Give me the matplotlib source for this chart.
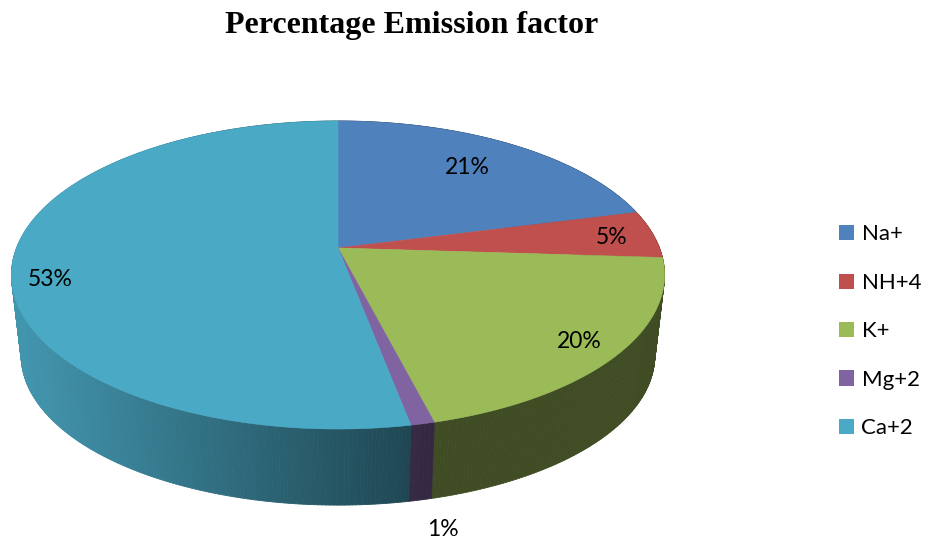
import numpy as np
import matplotlib
matplotlib.use("Agg")
import matplotlib.pyplot as plt
from matplotlib.collections import PolyCollection
from matplotlib.patches import Patch, Polygon

title = "Percentage Emission factor"
ions = ["Na+", "NH+4", "K+", "Mg+2", "Ca+2"]
shares = [21, 5, 20, 1, 53]
colors = ["#4f81bd", "#c0504d", "#9bbb59", "#8064a2", "#4aa9c5"]
label_xy = [(467, 167), (612, 238), (579, 341), (443, 530), (50, 279)]

# Perspective model of the disc, in canvas pixels
CX, CY = 338.0, 248.0
SCALE_X, SCALE_Y, TILT = 321.5, 149.3, 0.1753
BASE_Y, BASE_SCALE = 329.5, 0.97


def project(theta, radius=1.0, cy=CY, scale=1.0):
    """Map a clockwise-from-top angle on the disc to canvas coordinates."""
    u = radius * np.sin(theta)
    v = radius * np.cos(theta)
    w = 1 + TILT * v
    return CX + scale * SCALE_X * u / w, cy - scale * SCALE_Y * v / w


def side_shade(x):
    """Side walls darken towards the right of the pie."""
    return np.clip(0.88 - (x - 20) * (0.88 - 0.41) / 400.0, 0.41, 0.88)


fig = plt.figure(figsize=(9.31, 5.42), dpi=100)
ax = fig.add_axes([0, 0, 1, 1])
ax.set_xlim(0, 931)
ax.set_ylim(542, 0)
ax.axis("off")

edges = np.concatenate([[0], np.cumsum(shares)]) / np.sum(shares) * 2 * np.pi

# Side wall, split into thin facets for the shading
for start, stop, color in zip(edges[:-1], edges[1:], colors):
    rgb = np.array(matplotlib.colors.to_rgb(color))
    ts = np.linspace(start, stop, max(2, int((stop - start) / 0.01)))
    quads, face = [], []
    for a, b in zip(ts[:-1], ts[1:]):
        x0, y0 = project(a)
        x1, y1 = project(b)
        x2, y2 = project(b, cy=BASE_Y, scale=BASE_SCALE)
        x3, y3 = project(a, cy=BASE_Y, scale=BASE_SCALE)
        quads.append([(x0, y0), (x1, y1), (x2, y2), (x3, y3)])
        face.append(rgb * side_shade((x0 + x1) / 2))
    ax.add_collection(PolyCollection(quads, facecolors=face, edgecolors=face,
                                     linewidths=0.6, zorder=1))

# Top face
for start, stop, color in zip(edges[:-1], edges[1:], colors):
    ts = np.linspace(start, stop, 200)
    xs, ys = project(ts)
    pts = np.column_stack([np.r_[CX, xs], np.r_[CY, ys]])
    ax.add_patch(Polygon(pts, closed=True, facecolor=color, edgecolor=color,
                         linewidth=0.4, zorder=2))

for share, (x, y) in zip(shares, label_xy):
    ax.text(x, y, f"{share}%", ha="center", va="center", fontsize=16.5,
            family="Lato", color="black", zorder=3)

ax.text(412, 26, title, ha="center", va="center", fontsize=23,
        family="Liberation Serif", fontweight="bold", color="black")

handles = [Patch(facecolor=c, edgecolor="none") for c in colors]
ax.legend(handles, ions, loc="upper left", bbox_to_anchor=(838.5 / 931, 1 - 224.5 / 542),
          frameon=False, borderpad=0, borderaxespad=0, handlelength=0.675, handleheight=0.675,
          handletextpad=0.36, labelspacing=1.28,
          prop={"family": "Lato", "size": 16})

fig.savefig("out.png", dpi=100)
